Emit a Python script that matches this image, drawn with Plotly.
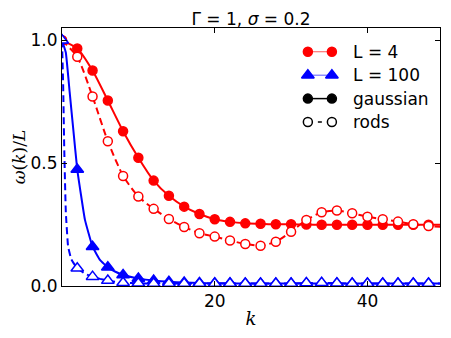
import plotly.graph_objects as go

# k values where the L = 4 curves are sampled (markers every 2)
k_L4 = [0, 2, 4, 6, 8, 10, 12, 14, 16, 18, 20, 22, 24, 26, 28, 30,
        32, 34, 36, 38, 40, 42, 44, 46, 48, 50]
gauss_L4 = [1.0, 0.967, 0.877, 0.755, 0.630, 0.522, 0.429, 0.367, 0.323, 0.293,
            0.272, 0.261, 0.255, 0.253, 0.251, 0.251, 0.250, 0.249, 0.249, 0.249,
            0.249, 0.249, 0.249, 0.249, 0.249, 0.249]
rods_L4 = [1.0, 0.933, 0.771, 0.589, 0.448, 0.364, 0.314, 0.273, 0.240, 0.215,
           0.201, 0.185, 0.171, 0.164, 0.180, 0.221, 0.269, 0.300, 0.307, 0.296,
           0.282, 0.272, 0.262, 0.251, 0.244, 0.240]

# L = 100 curves drop fast, so a few extra samples near k = 0
k_gauss_L100 = [0, 0.5, 1, 1.5, 2, 3, 4, 5, 6, 7, 8, 10, 12, 14, 16, 18, 20, 22,
                24, 26, 28, 30, 32, 34, 36, 38, 40, 42, 44, 46, 48, 50]
gauss_L100 = [1.0, 0.95, 0.79, 0.63, 0.474, 0.27, 0.16, 0.105, 0.076, 0.058, 0.045,
              0.031, 0.022, 0.017, 0.014, 0.012, 0.011, 0.011,
              0.010, 0.010, 0.010, 0.010, 0.010, 0.010, 0.010, 0.010, 0.010,
              0.010, 0.010, 0.010, 0.010, 0.010]
k_rods_L100 = [0, 0.15, 0.3, 0.5, 0.8, 1.2, 1.5, 2, 3, 4, 5, 6, 8, 10, 12, 14, 16,
               18, 20, 22, 24, 26, 28, 30, 32, 34, 36, 38, 40, 42, 44, 46, 48, 50]
rods_L100 = [1.0, 0.82, 0.55, 0.30, 0.16, 0.11, 0.094, 0.072, 0.05, 0.038, 0.029,
             0.022, 0.013, 0.011, 0.010, 0.010, 0.010, 0.010, 0.010, 0.010, 0.010,
             0.010, 0.010, 0.010, 0.012, 0.013, 0.011, 0.010, 0.010, 0.010, 0.010,
             0.010, 0.010, 0.010]

legend_labels = ["L = 4", "L = 100", "gaussian", "rods"]

RED = "#ff0000"
BLUE = "#0000ff"
FONT = "DejaVu Sans"


def marker_points(ks, ys):
    pts = [(k, y) for k, y in zip(ks, ys) if k % 2 == 0 and k <= 48]
    return [p[0] for p in pts], [p[1] for p in pts]


fig = go.Figure()

series = [
    (k_L4, gauss_L4, RED, "solid", "circle", RED, 0.6),
    (k_L4, rods_L4, RED, "7px,4px", "circle", "white", 0.6),
    (k_gauss_L100, gauss_L100, BLUE, "solid", "triangle-up", BLUE, 0.3),
    (k_rods_L100, rods_L100, BLUE, "7px,4px", "triangle-up", "white", 0.3),
]

for ks, ys, color, dash, symbol, fill, smooth in series:
    fig.add_trace(go.Scatter(
        x=ks, y=ys, mode="lines",
        line=dict(color=color, width=2, dash=dash, shape="spline", smoothing=smooth),
        showlegend=False, hoverinfo="skip"))
    mx, my = marker_points(ks, ys)
    size = 9 if symbol == "circle" else 11
    fig.add_trace(go.Scatter(
        x=mx, y=my, mode="markers",
        marker=dict(symbol=symbol, size=size, color=fill,
                    line=dict(color=color, width=1.5)),
        showlegend=False, hoverinfo="skip"))

# hand-drawn legend (two markers joined by a line, like matplotlib)
# x2/y2 are in page pixels of the plot area
leg_x = [308, 332]
leg_y = [51.7, 75.2, 98.6, 122.0]
leg_styles = [
    ("circle", RED, RED, "rgba(255,0,0,0.55)", 1.2),
    ("triangle-up", BLUE, BLUE, "rgba(0,0,255,0.55)", 1.2),
    ("circle", "black", "black", "black", 1.5),
    ("circle", "white", "black", None, 1.5),
]
for (symbol, fill, edge, lcol, lw), yy, label in zip(leg_styles, leg_y, legend_labels):
    if lcol is not None:
        fig.add_trace(go.Scatter(
            x=leg_x, y=[yy, yy], mode="lines", line=dict(color=lcol, width=lw),
            xaxis="x2", yaxis="y2", showlegend=False, hoverinfo="skip"))
    else:
        fig.add_trace(go.Scatter(
            x=[318, 322], y=[yy, yy], mode="lines", line=dict(color="black", width=1.5),
            xaxis="x2", yaxis="y2", showlegend=False, hoverinfo="skip"))
    size = 9 if symbol == "circle" else 11
    fig.add_trace(go.Scatter(
        x=leg_x, y=[yy, yy], mode="markers",
        marker=dict(symbol=symbol, size=size, color=fill, line=dict(color=edge, width=1.5)),
        xaxis="x2", yaxis="y2", showlegend=False, hoverinfo="skip"))
    fig.add_annotation(x=351, y=yy, xref="x2", yref="y2", text=label, showarrow=False,
                       xanchor="left", yanchor="middle",
                       font=dict(family=FONT, size=17, color="black"))

axis_common = dict(
    showline=True, linecolor="black", linewidth=1, mirror="allticks",
    ticks="inside", ticklen=5, tickcolor="black", showgrid=False, zeroline=False,
    automargin=False,
    tickfont=dict(family=FONT, size=17, color="black"),
)

# the page body adds an 8px margin, so the figure is 8px smaller and shifted
fig.update_layout(
    width=435, height=322,
    margin=dict(l=54, r=3, t=20, b=44, autoexpand=False),
    paper_bgcolor="white", plot_bgcolor="white",
    title=dict(text="Γ = 1, <i>σ</i> = 0.2", x=0.5, xref="paper", xanchor="center",
               y=1 - 11 / 322, yanchor="middle", automargin=False,
               font=dict(family=FONT, size=17, color="black")),
    xaxis=dict(range=[0, 49.5], tickvals=[20, 40], ticktext=["20", "40"],
               title=dict(text="<i>k</i>", standoff=1,
                          font=dict(family="DejaVu Serif", size=18, color="black")),
               **axis_common),
    yaxis=dict(range=[0, 1.05], tickvals=[0, 0.5, 1.0], ticktext=["0.0", "0.5", "1.0"],
               title=dict(text="<i>ω</i>(<i>k</i>)/<i>L</i>", standoff=0,
                          font=dict(family="DejaVu Serif", size=17, color="black")),
               **axis_common),
    xaxis2=dict(overlaying="x", range=[62.4, 440], visible=False),
    yaxis2=dict(overlaying="y", range=[286, 28], visible=False),
)

fig.write_html("out.html")
